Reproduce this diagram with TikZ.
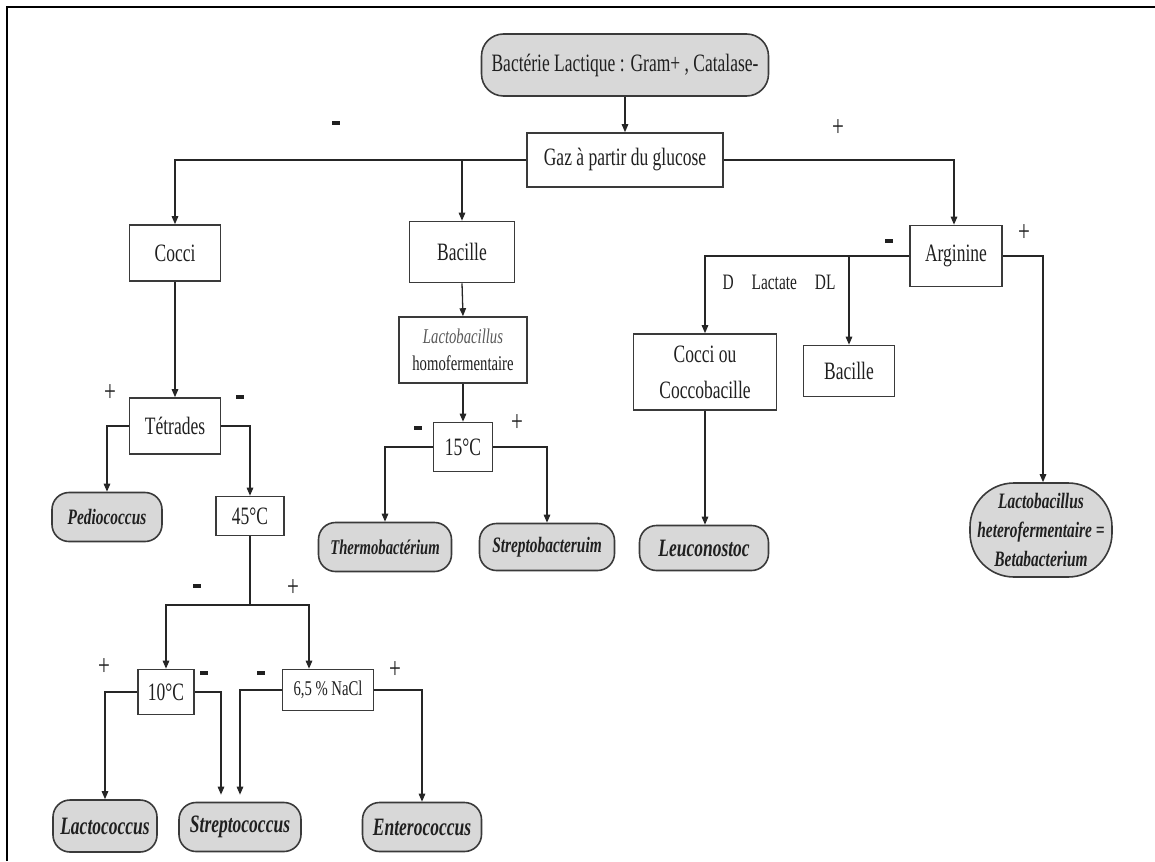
\documentclass[tikz,border=0pt]{standalone}
\usepackage{fontspec}
\setmainfont{Liberation Serif}[FakeStretch=0.7]
\usetikzlibrary{arrows.meta}
\definecolor{boxc}{HTML}{3A3A3A}
\definecolor{leafc}{HTML}{D8D8D8}
\definecolor{txtc}{HTML}{202020}
\newcommand\fsz[2]{\fontsize{#1}{#2}\selectfont}
\newcommand\mns{\rule{8pt}{3.5pt}}
\begin{document}
\begin{tikzpicture}[x=1pt,y=-1pt,
  box/.style={draw=boxc,line width=1.6pt,fill=white,inner sep=0pt,align=center,text=txtc,font=\fsz{25}{30}},
  leaf/.style={draw=boxc,line width=1.6pt,fill=leafc,inner sep=0pt,align=center,text=txtc,rounded corners=17pt,font=\fsz{25}{30}\bfseries\itshape},
  lbl/.style={inner sep=0pt,text=txtc,font=\fsz{30}{34}},
  arr/.style={draw=black!85,line width=1.3pt,-{Triangle[length=8pt,width=6.5pt]}},
  ln/.style={draw=black!85,line width=1.3pt}]
\useasboundingbox (0,0) rectangle (1155,861);
% frame
\draw[line width=2.5pt] (7,861) -- (7,7) -- (1155,7);

% nodes
\node[leaf,rounded corners=22pt,minimum width=287pt,minimum height=62pt,font=\fsz{25}{30}] (top) at (625,65) {Bactérie Lactique : Gram+ , Catalase-};
\node[box,minimum width=196pt,minimum height=54pt] (gaz) at (625,160) {Gaz à partir du glucose};
\node[box,minimum width=91pt,minimum height=56pt] (cocci) at (175,253) {Cocci};
\node[box,minimum width=105pt,minimum height=61pt] (bac1) at (462,252) {Bacille};
\node[box,minimum width=92pt,minimum height=61pt] (argi) at (956,256) {Arginine};
\node[box,minimum width=128pt,minimum height=66pt,font=\fsz{21}{27}] (homo) at (463,350) {{\itshape\color{black!65}Lactobacillus}\\homofermentaire};
\node[box,minimum width=59pt,minimum height=49pt] (t15) at (463,447) {15°C};
\node[box,minimum width=91pt,minimum height=56pt] (tetr) at (175,426) {Tétrades};
\node[leaf,minimum width=110pt,minimum height=49pt,font=\fsz{22}{26}\bfseries\itshape] (pedi) at (107,517) {Pediococcus};
\node[box,minimum width=68pt,minimum height=39pt] (t45) at (250,516) {45°C};
\node[box,minimum width=56pt,minimum height=45pt] (t10) at (166,692) {10°C};
\node[box,minimum width=91pt,minimum height=41pt,font=\fsz{21}{25}] (nacl) at (328,690) {6,5 \% NaCl};
\node[leaf,minimum width=104pt,minimum height=52pt] (lacto) at (105,826) {Lactococcus};
\node[leaf,minimum width=122pt,minimum height=49pt] (strep) at (240,827) {Streptococcus};
\node[leaf,minimum width=119pt,minimum height=49pt] (entero) at (422,827) {Enterococcus};
\node[leaf,minimum width=133pt,minimum height=49pt,font=\fsz{21}{25}\bfseries\itshape] (thermo) at (385,547) {Thermobactérium};
\node[leaf,minimum width=135pt,minimum height=47pt,font=\fsz{22}{26}\bfseries\itshape] (streptob) at (547,547) {Streptobacteruim};
\node[box,minimum width=143pt,minimum height=76pt,font=\fsz{25}{36}] (cocciou) at (705,372) {Cocci ou\\Coccobacille};
\node[box,minimum width=91pt,minimum height=51pt] (bac2) at (849,371) {Bacille};
\node[leaf,minimum width=129pt,minimum height=45pt] (leuco) at (704,548) {Leuconostoc};
\node[leaf,rounded corners=44pt,minimum width=142pt,minimum height=94pt,font=\fsz{22}{29}\bfseries\itshape] (hetero) at (1041,530) {Lactobacillus\\heterofermentaire =\\Betabacterium};
\node[lbl,font=\fsz{22}{26}] (dl) at (779,282) {D\hspace{18pt}Lactate\hspace{18pt}DL};

% sign labels
\node[lbl] (s1) at (336,123) {\mns};
\node[lbl] (s2) at (838,128) {+};
\node[lbl] (s3) at (889,241) {\mns};
\node[lbl] (s4) at (1024,233) {+};
\node[lbl] (s5) at (110,393) {+};
\node[lbl] (s6) at (240,397) {\mns};
\node[lbl] (s7) at (418,428) {\mns};
\node[lbl] (s8) at (517,423) {+};
\node[lbl] (s9) at (197,586) {\mns};
\node[lbl] (s10) at (293,588) {+};
\node[lbl] (s11) at (104,667) {+};
\node[lbl] (s12) at (204,673) {\mns};
\node[lbl] (s13) at (261,673) {\mns};
\node[lbl] (s14) at (395,670) {+};

% connectors
\draw[arr] (top.south) -- (gaz.north);
\draw[arr] (gaz.west) -| (cocci.north);
\draw[arr] (bac1.north |- gaz.west) -- (bac1.north);
\draw[arr] (gaz.east) -| ([xshift=-2pt]argi.north);

\draw[arr] (cocci.south) -- (tetr.north);
\draw[arr] (tetr.west) -| (pedi.north);
\draw[arr] (tetr.east) -| (t45.north);
\coordinate (j45) at ([yshift=-89pt]t45.center);
\draw[ln] (t45.south) -- (j45);
\draw[arr] (j45) -| (t10.north);
\draw[arr] (j45) -| ([xshift=-19pt]nacl.north);
\draw[arr] (t10.west) -| (lacto.north);
\draw[arr,shorten >=7pt] (t10.east) -| ([xshift=-19pt]strep.north);
\draw[arr,shorten >=7pt] (nacl.west) -| (strep.north);
\draw[arr] (nacl.east) -| (entero.north);

\draw[arr] (bac1.south) -- (homo.north);
\draw[arr] (homo.south) -- (t15.north);
\draw[arr] (t15.west) -| (thermo.north);
\draw[arr] (t15.east) -| (streptob.north);

\draw[arr] (argi.west) -| (cocciou.north);
\draw[arr] (bac2.north |- argi.west) -- (bac2.north);
\draw[arr] (argi.east) -| ([xshift=2pt]hetero.north);
\draw[arr] (cocciou.south) -- (cocciou.south |- leuco.north);
\end{tikzpicture}
\end{document}
